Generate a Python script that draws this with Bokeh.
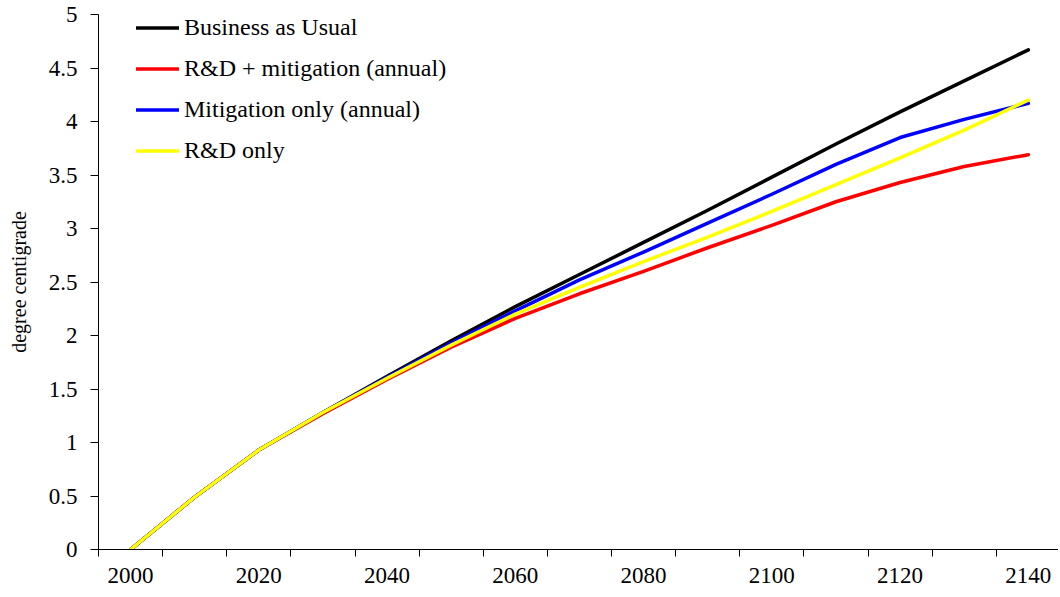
from bokeh.plotting import figure
from bokeh.models import Range1d, FixedTicker, CustomJSTickFormatter, Legend, LegendItem
from bokeh.embed import file_html
from bokeh.resources import INLINE

years = [2000, 2010, 2020, 2030, 2040, 2050, 2060, 2070, 2080, 2090, 2100, 2110, 2120, 2130, 2140]
bau = [0.0, 0.49, 0.93, 1.28, 1.62, 1.95, 2.27, 2.57, 2.87, 3.17, 3.48, 3.79, 4.09, 4.38, 4.67]
rd_mit = [0.0, 0.49, 0.93, 1.27, 1.59, 1.89, 2.16, 2.39, 2.60, 2.82, 3.03, 3.25, 3.43, 3.58, 3.69]
mit_only = [0.0, 0.49, 0.93, 1.28, 1.61, 1.93, 2.23, 2.52, 2.78, 3.05, 3.32, 3.60, 3.85, 4.02, 4.17]
rd_only = [0.0, 0.49, 0.93, 1.28, 1.60, 1.91, 2.20, 2.45, 2.69, 2.92, 3.16, 3.41, 3.66, 3.92, 4.20]

series_names = ["Business as Usual", "R&D + mitigation (annual)", "Mitigation only (annual)", "R&D only"]
series_vals = [bau, rd_mit, mit_only, rd_only]
series_colors = ["#000000", "#FF0000", "#0000FF", "#FFFF00"]

x_label_ticks = [2000, 2020, 2040, 2060, 2080, 2100, 2120, 2140]
x_minor_ticks = [1995, 2005, 2015, 2025, 2035, 2045, 2055, 2065, 2075, 2085, 2095, 2105, 2115, 2125, 2135, 2145]
y_ticks = [0, 0.5, 1, 1.5, 2, 2.5, 3, 3.5, 4, 4.5, 5]

FONT = "Liberation Serif"

p = figure(width=1058, height=593, output_backend="svg", toolbar_location=None,
           x_range=Range1d(1995, 2144.7), y_range=Range1d(0, 5),
           min_border_left=98, min_border_right=0, min_border_top=14, min_border_bottom=44)
p.outline_line_color = None
p.xgrid.visible = False
p.ygrid.visible = False
p.background_fill_color = "white"
p.border_fill_color = "white"

renderers = []
for name, vals, col in zip(series_names, series_vals, series_colors):
    r = p.line(years, vals, line_color=col, line_width=3.5, line_cap="round", line_join="round")
    renderers.append((name, r))

legend = Legend(items=[LegendItem(label=n, renderers=[r]) for n, r in renderers],
                location=(38, 385), orientation="vertical")
legend.label_text_font = FONT
legend.label_text_font_size = "24px"
legend.label_text_color = "black"
legend.border_line_color = None
legend.background_fill_alpha = 0
legend.padding = 0
legend.margin = 0
legend.glyph_width = 43
legend.glyph_height = 27
legend.label_height = 27
legend.label_standoff = 5
legend.spacing = 14
p.add_layout(legend, "center")

xa = p.xaxis[0]
xa.ticker = FixedTicker(ticks=x_label_ticks, minor_ticks=x_minor_ticks)
xa.major_tick_out = 0
xa.major_tick_in = 0
xa.minor_tick_out = 7
xa.minor_tick_in = 0
xa.minor_tick_line_color = "black"
xa.axis_line_color = "black"
xa.major_label_text_font = FONT
xa.major_label_text_font_size = "23px"
xa.major_label_text_color = "black"
xa.major_label_standoff = 11
xa.formatter = CustomJSTickFormatter(code="return tick.toString();")

ya = p.yaxis[0]
ya.ticker = FixedTicker(ticks=y_ticks, minor_ticks=[])
ya.major_tick_out = 8
ya.major_tick_in = 0
ya.major_tick_line_color = "black"
ya.axis_line_color = "black"
ya.major_label_text_font = FONT
ya.major_label_text_font_size = "23px"
ya.major_label_text_color = "black"
ya.major_label_standoff = 13
ya.formatter = CustomJSTickFormatter(code="return tick.toString();")
ya.axis_label = "degree centigrade"
ya.axis_label_text_font = FONT
ya.axis_label_text_font_size = "20px"
ya.axis_label_text_font_style = "normal"
ya.axis_label_text_color = "black"
ya.axis_label_standoff = 16

open("out.html", "w").write(file_html(p, INLINE))
